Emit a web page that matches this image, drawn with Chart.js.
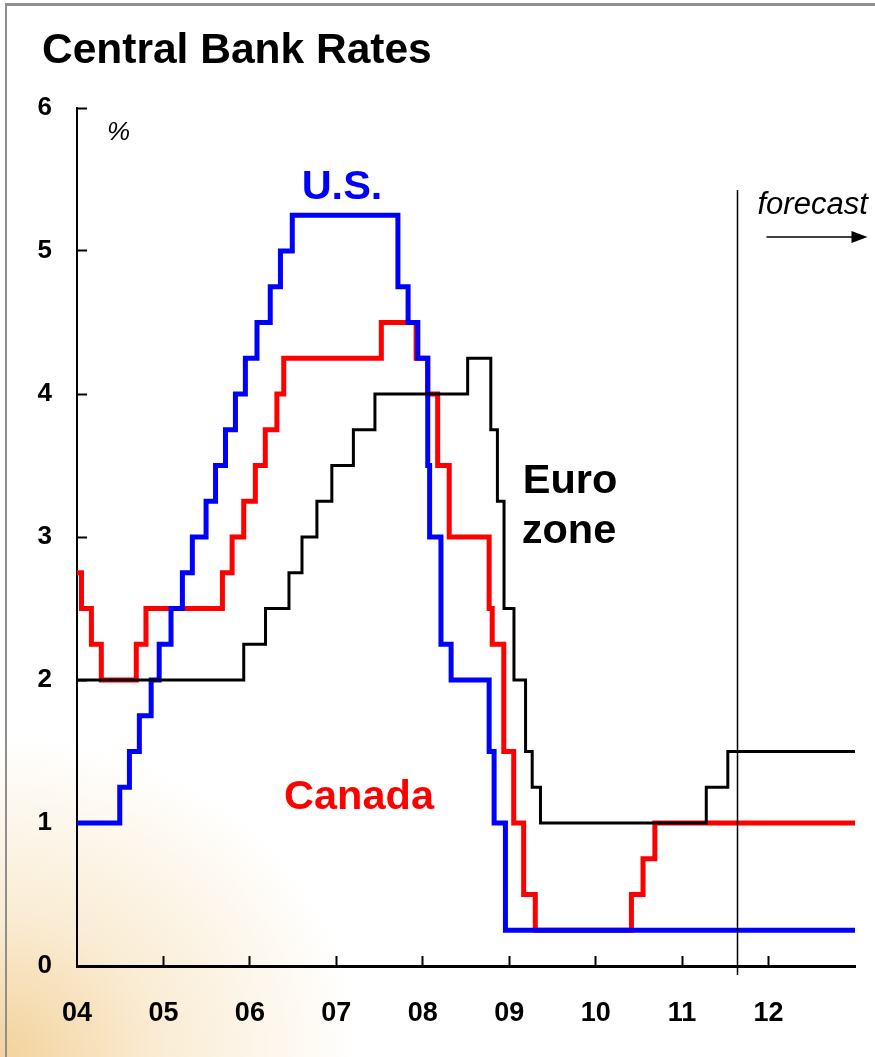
<!DOCTYPE html>
<html>
<head>
<meta charset="utf-8">
<title>Central Bank Rates</title>
<script src="https://cdn.jsdelivr.net/npm/chart.js@4.4.0/dist/chart.umd.min.js"></script>
<style>
  html, body { margin: 0; padding: 0; }
  body {
    width: 875px;
    height: 1057px;
    overflow: hidden;
    position: relative;
    background:
      radial-gradient(ellipse 360px 320px at 0 100%, rgba(242, 205, 145, 0.9) 0%, rgba(247, 224, 184, 0.6) 45%, rgba(255, 255, 255, 0) 100%),
      #fff;
  }
  .frame {
    position: absolute;
    left: 5px; top: 3px; right: 0; bottom: 0;
    border-left: 2px solid #8f8f8f;
    border-top: 3px solid #8f8f8f;
  }
  canvas { position: absolute; left: 0; top: 0; }
</style>
</head>
<body>
<div class="frame"></div>
<canvas id="rates" width="875" height="1057"></canvas>
<script>
// Policy rates, one entry per change: date the new rate took effect, then the rate (%)
const usDates = ['2004-01-01', '2004-06-30', '2004-08-10', '2004-09-21', '2004-11-10', '2004-12-14',
  '2005-02-02', '2005-03-22', '2005-05-03', '2005-06-30', '2005-08-09', '2005-09-20', '2005-11-01',
  '2005-12-13', '2006-01-31', '2006-03-28', '2006-05-10', '2006-06-29', '2007-09-18', '2007-10-31',
  '2007-12-11', '2008-01-22', '2008-01-30', '2008-03-18', '2008-04-30', '2008-10-08', '2008-10-29',
  '2008-12-16', '2013-01-01'];
const usRates = [1.0, 1.25, 1.5, 1.75, 2.0, 2.25, 2.5, 2.75, 3.0, 3.25, 3.5, 3.75, 4.0, 4.25, 4.5, 4.75,
  5.0, 5.25, 4.75, 4.5, 4.25, 3.5, 3.0, 2.25, 2.0, 1.5, 1.0, 0.25, 0.25];

const caDates = ['2004-01-01', '2004-01-20', '2004-03-02', '2004-04-13', '2004-09-08', '2004-10-19',
  '2005-09-07', '2005-10-18', '2005-12-06', '2006-01-24', '2006-03-07', '2006-04-25', '2006-05-24',
  '2007-07-10', '2007-12-04', '2008-01-22', '2008-03-04', '2008-04-22', '2008-10-08', '2008-10-21',
  '2008-12-09', '2009-01-20', '2009-03-03', '2009-04-21', '2010-06-01', '2010-07-20', '2010-09-08',
  '2013-01-01'];
const caRates = [2.75, 2.5, 2.25, 2.0, 2.25, 2.5, 2.75, 3.0, 3.25, 3.5, 3.75, 4.0, 4.25, 4.5, 4.25, 4.0,
  3.5, 3.0, 2.5, 2.25, 1.5, 1.0, 0.5, 0.25, 0.5, 0.75, 1.0, 1.0];

const euDates = ['2004-01-01', '2005-12-06', '2006-03-08', '2006-06-15', '2006-08-09', '2006-10-11',
  '2006-12-13', '2007-03-14', '2007-06-13', '2008-07-09', '2008-10-15', '2008-11-12', '2008-12-10',
  '2009-01-21', '2009-03-11', '2009-04-08', '2009-05-13', '2011-04-13', '2011-07-13', '2013-01-01'];
const euRates = [2.0, 2.25, 2.5, 2.75, 3.0, 3.25, 3.5, 3.75, 4.0, 4.25, 3.75, 3.25, 2.5, 2.0, 1.5, 1.25,
  1.0, 1.25, 1.5, 1.5];

const xTickLabels = ['04', '05', '06', '07', '08', '09', '10', '11', '12'];
const yTickLabels = ['0', '1', '2', '3', '4', '5', '6'];
const forecastStart = '2011-08-21';

const SANS = "'Liberation Sans', Arial, Helvetica, sans-serif";

// date string -> fractional year
function toYear(s) {
  const [y, m, d] = s.split('-').map(Number);
  const start = Date.UTC(y, 0, 1);
  const end = Date.UTC(y + 1, 0, 1);
  return y + (Date.UTC(y, m - 1, d) - start) / (end - start);
}

function toPoints(dates, rates) {
  return dates.map((d, i) => ({ x: toYear(d), y: rates[i] }));
}

// title, series names and the forecast marker
const annotations = {
  id: 'annotations',
  afterDatasetsDraw(chart) {
    const { ctx, scales: { x, y } } = chart;
    ctx.save();

    // forecast divider runs a little below the axis
    const fx = Math.round(x.getPixelForValue(toYear(forecastStart))) + 0.5;
    ctx.strokeStyle = '#000';
    ctx.lineWidth = 1.5;
    ctx.beginPath();
    ctx.moveTo(fx, 190);
    ctx.lineTo(fx, y.bottom + 9);
    ctx.stroke();

    ctx.fillStyle = '#000';
    ctx.textAlign = 'left';
    ctx.textBaseline = 'alphabetic';
    ctx.font = 'italic 31px ' + SANS;
    ctx.fillText('forecast', fx + 20, 214);

    // arrow
    ctx.lineWidth = 1.5;
    ctx.beginPath();
    ctx.moveTo(fx + 29, 237);
    ctx.lineTo(fx + 116, 237);
    ctx.stroke();
    ctx.beginPath();
    ctx.moveTo(fx + 130, 237);
    ctx.lineTo(fx + 114, 231);
    ctx.lineTo(fx + 114, 243);
    ctx.closePath();
    ctx.fill();

    ctx.restore();
  },
  afterDraw(chart) {
    const { ctx } = chart;
    ctx.save();
    ctx.textBaseline = 'alphabetic';

    ctx.fillStyle = '#000';
    ctx.textAlign = 'left';
    ctx.font = 'bold 42.5px ' + SANS;
    ctx.fillText('Central Bank Rates', 42, 63);

    ctx.font = 'italic 26px ' + SANS;
    ctx.fillText('%', 107, 140);

    ctx.textAlign = 'center';
    ctx.font = 'bold 41.5px ' + SANS;
    ctx.fillStyle = '#0000ff';
    ctx.fillText('U.S.', 342, 199);
    ctx.fillStyle = '#ff0000';
    ctx.fillText('Canada', 359, 809);
    ctx.fillStyle = '#000';
    ctx.fillText('Euro', 570, 493);
    ctx.fillText('zone', 569, 543);

    ctx.restore();
  }
};

const ctx = document.getElementById('rates').getContext('2d');
new Chart(ctx, {
  type: 'line',
  data: {
    datasets: [
      {
        label: 'Euro zone',
        data: toPoints(euDates, euRates),
        borderColor: '#000000',
        borderWidth: 3,
        order: 0
      },
      {
        label: 'U.S.',
        data: toPoints(usDates, usRates),
        borderColor: '#0000ff',
        borderWidth: 5,
        order: 1
      },
      {
        label: 'Canada',
        data: toPoints(caDates, caRates),
        borderColor: '#ff0000',
        borderWidth: 5,
        order: 2
      }
    ]
  },
  options: {
    responsive: false,
    animation: false,
    devicePixelRatio: 1,
    layout: { padding: { top: 108, right: 20, left: 0, bottom: 0 } },
    elements: {
      line: {
        stepped: 'before',
        tension: 0,
        fill: false,
        borderCapStyle: 'round',
        borderJoinStyle: 'miter'
      },
      point: { radius: 0, hoverRadius: 0 }
    },
    scales: {
      x: {
        type: 'linear',
        min: 2004,
        max: 2013,
        afterFit(scale) {
          scale.height = 91;
          // the label gap should not eat into the plot width
          scale.paddingLeft = 0;
          scale.paddingRight = 0;
        },
        border: { display: true, color: '#000', width: 3 },
        grid: {
          drawOnChartArea: false,
          drawTicks: true,
          tickLength: -10,
          tickWidth: 2,
          tickColor: c => (c.index === 0 || c.index === 9 ? 'rgba(0,0,0,0)' : '#000')
        },
        ticks: {
          stepSize: 1,
          autoSkip: false,
          maxRotation: 0,
          padding: 41,
          color: '#000',
          font: { family: SANS, size: 27, weight: 'bold' },
          callback: (v, i) => xTickLabels[i] ?? ''
        }
      },
      y: {
        min: 0,
        max: 6,
        afterFit(scale) { scale.width = 77; },
        border: { display: true, color: '#000', width: 2 },
        grid: {
          drawOnChartArea: false,
          drawTicks: true,
          tickLength: -10,
          tickWidth: 2,
          tickColor: c => (c.index === 0 ? 'rgba(0,0,0,0)' : '#000')
        },
        ticks: {
          stepSize: 1,
          padding: 35,
          color: '#000',
          font: { family: SANS, size: 26, weight: 'bold' },
          callback: (v, i) => yTickLabels[i] ?? ''
        }
      }
    },
    plugins: {
      legend: { display: false },
      tooltip: { enabled: false },
      title: { display: false }
    }
  },
  plugins: [annotations]
});
</script>
</body>
</html>
